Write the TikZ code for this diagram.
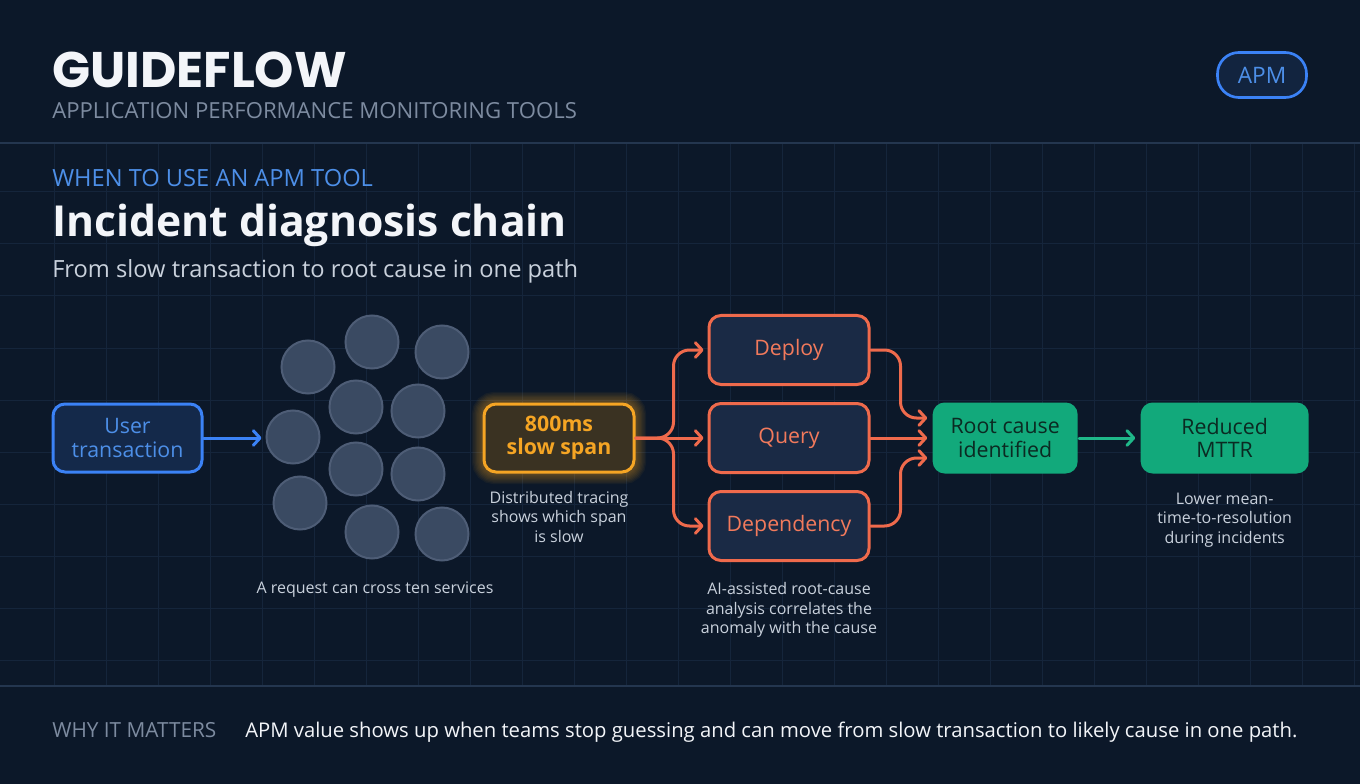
\documentclass[tikz,border=0pt]{standalone}
\usepackage{fontspec}
\setmainfont{Open Sans}
\newfontfamily\brandfont{Poppins}
\usetikzlibrary{arrows.meta,positioning,backgrounds}

\definecolor{bgnavy}{HTML}{0C1829}
\definecolor{gridnavy}{HTML}{15253B}
\definecolor{rulenavy}{HTML}{24364F}
\definecolor{titlewhite}{HTML}{F3F5F9}
\definecolor{mutedgray}{HTML}{7D8BA0}
\definecolor{softgray}{HTML}{C9D1DC}
\definecolor{userblue}{HTML}{3B82F6}
\definecolor{usertext}{HTML}{4D8FE8}
\definecolor{userfill}{HTML}{14294A}
\definecolor{amber}{HTML}{F5A524}
\definecolor{amberfill}{HTML}{3A3222}
\definecolor{coral}{HTML}{EF6A4C}
\definecolor{coraltext}{HTML}{F27A5C}
\definecolor{causefill}{HTML}{1A2A45}
\definecolor{mint}{HTML}{12A97B}
\definecolor{mintline}{HTML}{1FB889}
\definecolor{minttext}{HTML}{0B2A22}
\definecolor{svcfill}{HTML}{3A4A62}
\definecolor{svcline}{HTML}{4E5D76}
\definecolor{pillfill}{HTML}{12243F}

\begin{document}
\begin{tikzpicture}[
  x=0.75pt, y=-0.75pt,
  node distance=12pt and 54pt,
  box/.style={draw, line width=2.25pt, rounded corners=9pt, align=center,
              minimum width=120pt, minimum height=51.75pt, inner sep=0pt,
              font=\fontsize{16}{17.5}\selectfont},
  userbox/.style={box, draw=userblue, fill=userfill, text=usertext,
                  minimum width=111.75pt, minimum height=51pt},
  spanbox/.style={box, draw=amber, fill=amberfill, text=amber,
                  minimum width=112.5pt, minimum height=51pt,
                  font=\bfseries\fontsize{16}{17.5}\selectfont},
  causebox/.style={box, draw=coral, fill=causefill, text=coraltext},
  donebox/.style={box, draw=none, fill=mint, text=minttext, minimum height=53.25pt},
  service/.style={circle, draw=svcline, fill=svcfill, line width=1.5pt,
                  minimum size=39.75pt, inner sep=0pt},
  caption/.style={align=center, text=softgray, inner sep=0pt,
                  font=\fontsize{12}{14.7}\selectfont},
  headline/.style={anchor=base west, inner sep=0pt},
  arrow/.style={-{Straight Barb[round, length=5pt, width=11pt]}, line width=2.25pt,
                line cap=round, shorten >=3pt},
  gridline/.style={gridnavy, line width=0.75pt},
  rule/.style={rulenavy, line width=1.5pt}
]
\useasboundingbox (0,0) rectangle (1360,784);

% header
\node[headline, text=titlewhite, font=\brandfont\bfseries\fontsize{37.5}{37.5}\selectfont]
  (brand) at (52,88) {GUIDEFLOW};
\node[headline, text=mutedgray, font=\fontsize{16.6}{16.6}\selectfont]
  (product) at (52,119) {APPLICATION PERFORMANCE MONITORING TOOLS};
\node[draw=userblue, line width=2pt, fill=pillfill, text=usertext, rounded corners=16pt,
  minimum width=66.75pt, minimum height=33.75pt, font=\fontsize{17}{17}\selectfont]
  (tag) at (1262,75) {APM};
\node[headline, text=usertext, font=\fontsize{17.75}{17.75}\selectfont]
  (kicker) at (52,187) {WHEN TO USE AN APM TOOL};
\node[headline, text=titlewhite, font=\bfseries\fontsize{32}{32}\selectfont]
  (title) at (52,237) {Incident diagnosis chain};
\node[headline, text=softgray, font=\fontsize{17.75}{17.75}\selectfont]
  (subtitle) at (52,277) {From slow transaction to root cause in one path};

% chain
\node[userbox] (user) at (127.5,438) {User\\transaction};
\foreach \cx/\cy [count=\i] in {308/367, 372/342, 442/352, 356/407, 418/411, 293/437,
                                356/469, 418/474, 300/503, 372/532, 442/534}
  \node[service] (svc\i) at (\cx,\cy) {};
\node (svccap) [caption] at (375,590) {A request can cross ten services};

\node[spanbox] (span) at (559,438) {800ms\\slow span};
\node[caption, below=13pt of span] (spancap) {Distributed tracing\\shows which span\\is slow};

\node[causebox, right=of span] (query) {Query};
\node[causebox, above=of query] (deploy) {Deploy};
\node[causebox, below=of query] (dependency) {Dependency};
\node[caption, below=15pt of dependency] (aicap)
  {AI-assisted root-cause\\analysis correlates the\\anomaly with the cause};

\node[donebox, right=45.5pt of query, minimum width=108.75pt] (root) {Root cause\\identified};
\node[donebox, right=45pt of root, minimum width=126pt] (mttr) {Reduced\\MTTR};
\node[caption, below=13pt of mttr] (mttrcap) {Lower mean-\\time-to-resolution\\during incidents};

\draw[arrow, userblue] (user.east) -- (user.east -| svc6.west);
\draw[arrow, coral, rounded corners=12pt] (span.east) -- ++(38,0) |- (deploy.west);
\draw[arrow, coral] (span.east) -- (query.west);
\draw[arrow, coral, rounded corners=12pt] (span.east) -- ++(38,0) |- (dependency.west);
\draw[arrow, coral, rounded corners=12pt] (deploy.east) -- ++(30,0) |- ([yshift=15pt]root.west);
\draw[arrow, coral] (query.east) -- (root.west);
\draw[arrow, coral, rounded corners=12pt] (dependency.east) -- ++(30,0) |- ([yshift=-15pt]root.west);
\draw[arrow, mintline] (root) -- (mttr);

% footer
\node[headline, text=mutedgray, font=\fontsize{15.6}{15.6}\selectfont]
  (whylabel) at (52,737) {WHY IT MATTERS};
\node[headline, text=titlewhite, font=\fontsize{15.2}{15.2}\selectfont]
  (whytext) at (245,737) {APM value shows up when teams stop guessing and can move from slow transaction to likely cause in one path.};

\begin{scope}[on background layer]
  \fill[bgnavy] (0,0) rectangle (1360,784);
  \foreach \gx in {54,106,...,1360} \draw[gridline] (\gx,143) -- (\gx,686);
  \foreach \gy in {192,244,...,686} \draw[gridline] (0,\gy) -- (1360,\gy);
  \draw[rule] (0,143) -- (1360,143);
  \draw[rule] (0,686) -- (1360,686);
  \foreach \g in {1,...,8}
    \draw[amber, opacity=0.05, line width=2*\g pt, rounded corners=9pt]
      (span.south west) rectangle (span.north east);
\end{scope}
\end{tikzpicture}
\end{document}
